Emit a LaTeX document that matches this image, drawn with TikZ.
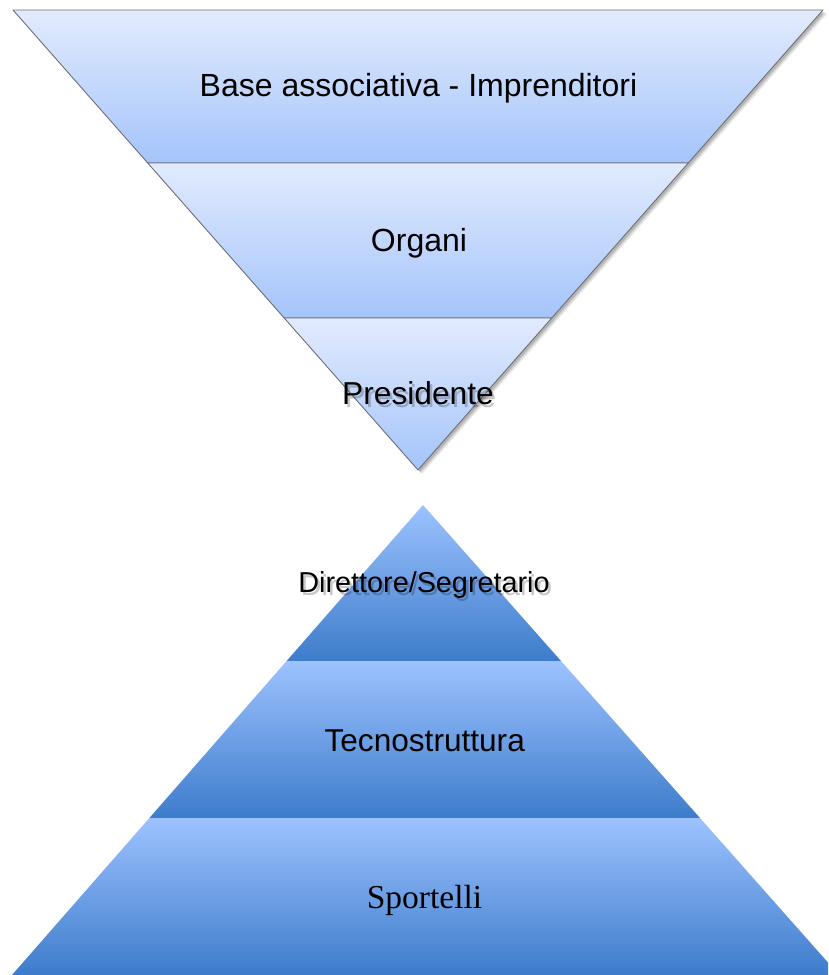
\documentclass[tikz,border=0pt]{standalone}
\usepackage{fontspec}
\setmainfont{Liberation Sans}
\newfontfamily\serifx{Liberation Serif}
\definecolor{topA}{HTML}{E2EBFD}
\definecolor{topB}{HTML}{A4C4FB}
\definecolor{botA}{HTML}{9DC2FF}
\definecolor{botB}{HTML}{3D7CCB}
\definecolor{edgec}{HTML}{6E6E6E}
\begin{document}
\begin{tikzpicture}[x=1pt,y=-1pt,
  upband/.style={top color=topA,bottom color=topB,draw=edgec,line width=0.9pt,line join=round},
  downband/.style={top color=botA,bottom color=botB},
  lbl/.style={font=\fontsize{32}{36}\selectfont,anchor=base,inner sep=0pt},
  txtshadow/.style={text=black,opacity=0.22,anchor=base,inner sep=0pt}]
\useasboundingbox (0,0) rectangle (828,975);
% shadow of the inverted pyramid
\foreach \s/\o in {4/0.08,3/0.10,2/0.14}{
  \fill[black,opacity=\o] (13+\s,10+\s) -- (823+\s,10+\s) -- (418+\s,470+\s) -- cycle;
}
% inverted pyramid
\shade[upband] (13,10) -- (823,10) -- (688.3,163) -- (147.7,163) -- cycle;
\shade[upband] (147.7,163) -- (688.3,163) -- (551.8,318) -- (284.2,318) -- cycle;
\shade[upband] (284.2,318) -- (551.8,318) -- (418,470) -- cycle;
% pyramid
\begin{scope}
\clip (0,0) rectangle (828,975);
\shade[downband] (423,505) -- (561,661) -- (286.6,661) -- cycle;
\shade[downband] (286.6,661) -- (561,661) -- (700,818) -- (149.4,818) -- cycle;
\shade[downband] (149.4,818) -- (700,818) -- (839,975) -- (12,975) -- cycle;
\end{scope}
% labels
\node[lbl] (base) at (418.5,96) {Base associativa - Imprenditori};
\node[lbl] (organi) at (419,251.5) {Organi};
\node[txtshadow,font=\fontsize{31.7}{36}\selectfont] (presS) at (420.5,407) {Presidente};
\node[txtshadow,font=\fontsize{28.8}{34}\selectfont] (dirS) at (426.5,595) {Direttore/Segretario};
\node[lbl,font=\fontsize{31.7}{36}\selectfont] (pres) at (418,404) {Presidente};
\node[lbl,font=\fontsize{28.8}{34}\selectfont] (dir) at (424,592) {Direttore/Segretario};
\node[lbl,font=\fontsize{31.6}{36}\selectfont] (tecno) at (424.7,751) {Tecnostruttura};
\node[lbl,font=\serifx\fontsize{33.5}{38}\selectfont] (sport) at (424.5,908) {Sportelli};
\end{tikzpicture}
\end{document}
